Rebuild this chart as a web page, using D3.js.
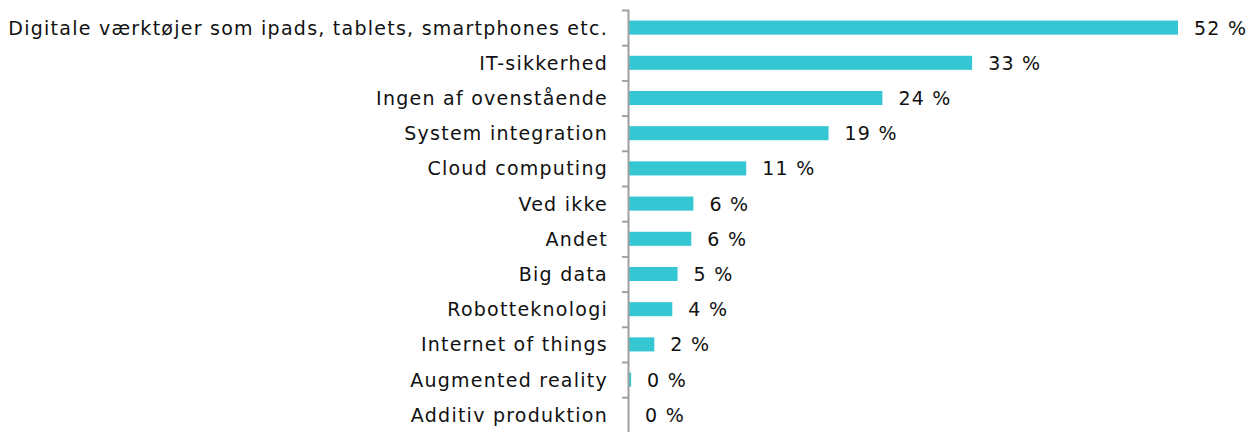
<!DOCTYPE html>
<html>
<head>
<meta charset="utf-8">
<script src="https://cdn.jsdelivr.net/npm/d3@7"></script>
<style>
  html, body { margin: 0; padding: 0; background: #fff; }
  svg { display: block; font-family: "DejaVu Sans", Verdana, sans-serif; }
</style>
</head>
<body>
<div id="chart"></div>
<script>
// Categories, top to bottom
const categories = [
    "Digitale værktøjer som ipads, tablets, smartphones etc.",
    "IT-sikkerhed",
    "Ingen af ovenstående",
    "System integration",
    "Cloud computing",
    "Ved ikke",
    "Andet",
    "Big data",
    "Robotteknologi",
    "Internet of things",
    "Augmented reality",
    "Additiv produktion"
];

// Share of respondents (%)
const values = [52, 32.5, 24, 18.9, 11.1, 6.1, 5.9, 4.6, 4.1, 2.4, 0.2, 0];

const W = 1258, H = 432;
const axisX = 629;
const barColor = "#35c6d3";

const svg = d3.select("#chart").append("svg")
    .attr("width", W).attr("height", H);

// scales
const x = d3.scaleLinear().domain([0, 52]).range([axisX, 1178]);
const y = d3.scaleBand().domain(categories).range([10, 432.4]).paddingInner(0.6).paddingOuter(0.3);
const yEdges = d3.scaleLinear().domain([0, categories.length]).range([10, 432.4]);

// bars
svg.selectAll("rect.bar")
    .data(categories).enter().append("rect")
    .attr("class", "bar")
    .attr("x", axisX)
    .attr("y", d => y(d))
    .attr("width", (d, i) => x(values[i]) - axisX)
    .attr("height", y.bandwidth())
    .attr("fill", barColor);

// axis with ticks between categories
svg.append("g")
    .attr("transform", `translate(${axisX - 1},0)`)
    .call(d3.axisLeft(yEdges).tickValues(d3.range(1, categories.length)).tickFormat("").tickSize(6).tickSizeOuter(6))
    .call(g => g.selectAll("line, path").attr("stroke", "#a0a0a0").attr("stroke-width", 2));

// category labels
svg.selectAll("text.cat")
    .data(categories).enter().append("text")
    .attr("class", "cat")
    .attr("x", 608)
    .attr("y", d => y(d) + y.bandwidth() / 2)
    .attr("dy", "0.37em")
    .attr("text-anchor", "end")
    .attr("fill", "#111")
    .style("font-size", "19px")
    .style("letter-spacing", "1.25px")
    .text(d => d);

// value labels
svg.selectAll("text.val")
    .data(categories).enter().append("text")
    .attr("class", "val")
    .attr("x", (d, i) => x(values[i]) + 16)
    .attr("y", d => y(d) + y.bandwidth() / 2)
    .attr("dy", "0.37em")
    .attr("fill", "#111")
    .style("font-size", "19px")
    .style("letter-spacing", "1.25px")
    .text((d, i) => Math.round(values[i]) + " %");
</script>
</body>
</html>
